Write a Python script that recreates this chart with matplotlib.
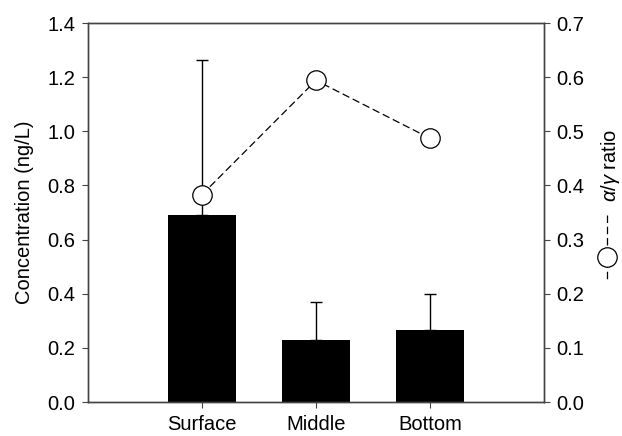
import matplotlib
matplotlib.use("Agg")
import matplotlib.pyplot as plt
from matplotlib.lines import Line2D
import numpy as np

plt.rcParams['font.family'] = ['Liberation Sans', 'DejaVu Sans']
plt.rcParams['mathtext.fontset'] = 'custom'
plt.rcParams['mathtext.it'] = 'Liberation Sans:italic'
plt.rcParams['mathtext.rm'] = 'Liberation Sans'

categories = ["Surface", "Middle", "Bottom"]
concentration = [0.69, 0.228, 0.265]
conc_err_upper = [0.575, 0.14, 0.135]
ratio = [0.383, 0.594, 0.487]

FS = 14.5
W, H = 622, 436
fig = plt.figure(figsize=(W / 100, H / 100), dpi=100)
ax = fig.add_axes([88 / W, 1 - 402 / H, 456 / W, 379 / H])
x = np.arange(len(categories))

ax.bar(x, concentration, width=0.6, color='black', zorder=2)
ax.errorbar(x, concentration, yerr=[np.zeros(len(x)), conc_err_upper], fmt='none',
            ecolor='black', elinewidth=1, capsize=4, capthick=1, zorder=1)
ax.set_xlim(-1.0, 3.0)
ax.set_ylim(0, 1.4)
ax.set_yticks(np.arange(0, 1.41, 0.2))
ax.set_yticklabels([f"{v:.1f}" for v in np.arange(0, 1.41, 0.2)])
ax.set_xticks(x)
ax.set_xticklabels(categories)
ax.set_ylabel("Concentration (ng/L)", fontsize=FS, labelpad=10)
ax.tick_params(direction='out', length=4, labelsize=FS, color='#444444', pad=5)

ax2 = ax.twinx()
ax2.plot(x, ratio, linestyle=(0, (6, 3)), color='black', lw=0.9,
         marker='o', markersize=14, markerfacecolor='white', markeredgecolor='black',
         markeredgewidth=0.9, zorder=3)
ax2.set_ylim(0, 0.7)
ax2.set_yticks(np.arange(0, 0.71, 0.1))
ax2.set_yticklabels([f"{v:.1f}" for v in np.arange(0, 0.71, 0.1)])
ax2.tick_params(direction='out', length=4, labelsize=FS, color='#444444', pad=5)

for a in (ax, ax2):
    for s in a.spines.values():
        s.set_color('#444444')
        s.set_linewidth(1)

# right-axis label with legend symbol
fig.text(611 / W, 1 - 165 / H, r"$\alpha/\gamma$ ratio", rotation=90,
         ha='center', va='center', fontsize=FS)
fig.add_artist(Line2D([607 / W, 607 / W], [1 - 215 / H, 1 - 280 / H],
                      transform=fig.transFigure, color='black', lw=0.9,
                      linestyle=(0, (6, 3))))
fig.add_artist(Line2D([607 / W], [1 - 257 / H], transform=fig.transFigure,
                      marker='o', markersize=14, markerfacecolor='white',
                      markeredgecolor='black', markeredgewidth=0.9, linestyle='none'))

fig.savefig("out.png", dpi=100)
